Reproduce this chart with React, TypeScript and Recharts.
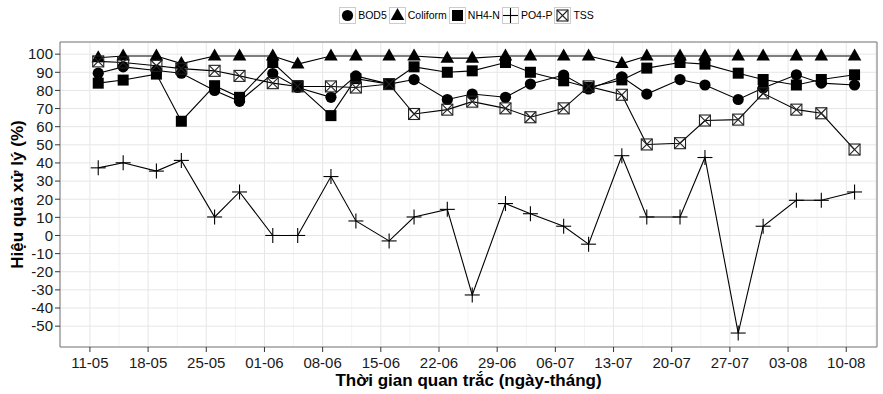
import React from 'react';
import {
  LineChart,
  Line,
  XAxis,
  YAxis,
  CartesianGrid,
  Legend,
  ReferenceArea,
} from 'recharts';

// sampling days (dd-mm, 2014)
const sampleDates = [
  '12-05', '15-05', '19-05', '22-05', '26-05', '29-05', '02-06', '05-06', '09-06',
  '12-06', '16-06', '19-06', '23-06', '26-06', '30-06', '03-07', '07-07', '10-07',
  '14-07', '17-07', '21-07', '24-07', '28-07', '31-07', '04-08', '07-08', '11-08',
];
const tickDates = [
  '11-05', '18-05', '25-05', '01-06', '08-06', '15-06', '22-06',
  '29-06', '06-07', '13-07', '20-07', '27-07', '03-08', '10-08',
];

const bod5 = [89.5, 93, 91, 89.5, 80, 74, 89.3, 81.6, 76.2, 88, 83.5, 86, 75, 78, 76.2, 83.5, 88.5, 80.8, 87.5, 78, 86, 83, 75, 81.3, 88.6, 84, 83];
const coliform = [98, 99, 99, 94.8, 99, 99, 99, 94.5, 99, 99, 99, 99, 97.8, 97.8, 99, 99, 99, 99, 94.8, 99, 99, 99, 99, 99, 99, 99, 99];
const nh4n = [84, 85.7, 89, 63, 82.6, 76.2, 95.4, 82.6, 66.1, 86.5, 83.5, 93, 90, 90.8, 95.4, 90, 85.3, 81.6, 85.8, 92.3, 95.4, 94.5, 89.5, 86, 83, 86, 88.6];
const po4p = [37.3, 40.1, 35.5, 41.4, 10.2, 24, 0, 0, 32.5, 8, -3, 10.2, 14.4, -32.8, 17.6, 12, 5.1, -4.8, 44, 10.2, 10.2, 43, -53.8, 5.1, 19.4, 19.4, 24];
const tss = [96, 95.4, 93.6, 92, 90.8, 88, 84, 82.2, 82.2, 81.6, 83.5, 67, 69.4, 73.8, 70.1, 65.2, 70.1, 82.2, 77.6, 50.2, 50.9, 63.4, 63.9, 78.4, 69.4, 67.4, 47.4];

const yTicks = [-50, -40, -30, -20, -10, 0, 10, 20, 30, 40, 50, 60, 70, 80, 90, 100];

const FONT = '"Liberation Sans", Arial, Helvetica, sans-serif';
const DAY = 86400000;
const ORIGIN = Date.UTC(2014, 4, 11);

const dayOf = (s: string) => {
  const [d, m] = s.split('-').map(Number);
  return (Date.UTC(2014, m - 1, d) - ORIGIN) / DAY;
};
const labelOf = (day: number) => {
  const dt = new Date(ORIGIN + day * DAY);
  const dd = String(dt.getUTCDate()).padStart(2, '0');
  const mm = String(dt.getUTCMonth() + 1).padStart(2, '0');
  return `${dd}-${mm}`;
};

const xTicks = tickDates.map(dayOf);
const xMinor = [xTicks[0] - 3.5, ...xTicks.map((t) => t + 3.5)];
const yMinor = [...yTicks.map((t) => t - 5), 105];
const X_DOMAIN: [number, number] = [-3.6, 94.7];
const Y_DOMAIN: [number, number] = [-61.5, 106.7];

const data = sampleDates.map((d, i) => ({
  day: dayOf(d),
  BOD5: bod5[i],
  Coliform: coliform[i],
  'NH4-N': nh4n[i],
  'PO4-P': po4p[i],
  TSS: tss[i],
}));

type Kind = 'circle' | 'triangle' | 'square' | 'plus' | 'boxx';

const series: { key: string; kind: Kind }[] = [
  { key: 'BOD5', kind: 'circle' },
  { key: 'Coliform', kind: 'triangle' },
  { key: 'NH4-N', kind: 'square' },
  { key: 'PO4-P', kind: 'plus' },
  { key: 'TSS', kind: 'boxx' },
];

function Marker({ kind, cx, cy }: { kind: Kind; cx: number; cy: number }) {
  if (cx == null || cy == null) return null;
  switch (kind) {
    case 'circle':
      return <circle cx={cx} cy={cy} r={5.6} fill="#000" />;
    case 'triangle':
      return (
        <polygon
          points={`${cx},${cy - 7.5} ${cx - 6.8},${cy + 4.5} ${cx + 6.8},${cy + 4.5}`}
          fill="#000"
        />
      );
    case 'square':
      return <rect x={cx - 5.5} y={cy - 5.5} width={11} height={11} fill="#000" />;
    case 'plus':
      return (
        <g stroke="#000" strokeWidth={1.1}>
          <line x1={cx - 7.5} y1={cy} x2={cx + 7.5} y2={cy} />
          <line x1={cx} y1={cy - 7.5} x2={cx} y2={cy + 7.5} />
        </g>
      );
    default:
      return (
        <g stroke="#222" strokeWidth={1.1} fill="none">
          <rect x={cx - 5.5} y={cy - 5.5} width={11} height={11} />
          <line x1={cx - 5.5} y1={cy - 5.5} x2={cx + 5.5} y2={cy + 5.5} />
          <line x1={cx - 5.5} y1={cy + 5.5} x2={cx + 5.5} y2={cy - 5.5} />
        </g>
      );
  }
}

function LegendContent() {
  return (
    <div
      style={{
        display: 'flex',
        justifyContent: 'center',
        alignItems: 'center',
        height: 30,
        paddingLeft: 52,
        fontFamily: FONT,
        fontSize: 10.5,
        color: '#000',
      }}
    >
      {series.map((s) => (
        <div key={s.key} style={{ display: 'flex', alignItems: 'center', marginRight: 2 }}>
          <svg width={17} height={17}>
            <rect x={0.5} y={0.5} width={16} height={16} fill="#fff" stroke="#cccccc" />
            <Marker kind={s.kind} cx={8.5} cy={8.5} />
          </svg>
          <span style={{ marginLeft: 2 }}>{s.key}</span>
        </div>
      ))}
    </div>
  );
}

const YTitle = (props: any) => {
  const { y, height } = props.viewBox;
  const cx = 17;
  const cy = y + height / 2;
  return (
    <text
      x={cx}
      y={cy}
      transform={`rotate(-90 ${cx} ${cy})`}
      textAnchor="middle"
      dominantBaseline="central"
      fontFamily={FONT}
      fontWeight="bold"
      fontSize={17}
      fill="#000"
    >
      Hiệu quả xử lý (%)
    </text>
  );
};

const XTitle = (props: any) => {
  const { x, y, width } = props.viewBox;
  return (
    <text
      x={x + width / 2}
      y={y + 39}
      textAnchor="middle"
      fontFamily={FONT}
      fontWeight="bold"
      fontSize={17}
      fill="#000"
    >
      Thời gian quan trắc (ngày-tháng)
    </text>
  );
};

export default function App() {
  const tickStyle = { fontSize: 15, fill: '#1a1a1a', fontFamily: FONT };
  return (
    <div style={{ position: 'absolute', left: 0, top: 0, background: '#fff' }}>
      <LineChart
        width={883}
        height={394}
        data={data}
        margin={{ top: 12, right: 6, bottom: 0, left: 0 }}
      >
        <XAxis xAxisId="minor" dataKey="day" type="number" domain={X_DOMAIN} ticks={xMinor} interval={0} hide />
        <YAxis yAxisId="minor" type="number" domain={Y_DOMAIN} ticks={yMinor} interval={0} hide />
        <CartesianGrid xAxisId="minor" yAxisId="minor" stroke="#f4f4f4" strokeWidth={1} />
        <CartesianGrid stroke="#e6e6e6" strokeWidth={1} />
        <XAxis
          dataKey="day"
          type="number"
          domain={X_DOMAIN}
          ticks={xTicks}
          interval={0}
          tickFormatter={labelOf}
          allowDataOverflow
          height={47}
          axisLine={false}
          tickLine={{ stroke: '#333' }}
          tickSize={5}
          tickMargin={5}
          tick={tickStyle}
          label={{ content: XTitle }}
        />
        <YAxis
          type="number"
          domain={Y_DOMAIN}
          ticks={yTicks}
          interval={0}
          allowDataOverflow
          width={60}
          axisLine={false}
          tickLine={{ stroke: '#333' }}
          tickSize={5}
          tickMargin={2}
          tick={tickStyle}
          label={{ content: YTitle }}
        />
        <ReferenceArea
          x1={X_DOMAIN[0]}
          x2={X_DOMAIN[1]}
          y1={Y_DOMAIN[0]}
          y2={Y_DOMAIN[1]}
          fill="none"
          stroke="#7f7f7f"
          strokeWidth={1}
        />
        <Legend
          verticalAlign="top"
          content={LegendContent}
          wrapperStyle={{ top: 0, left: 0, width: 883, height: 30 }}
        />
        {series.map((s) => (
          <Line
            key={s.key}
            dataKey={s.key}
            type="linear"
            stroke="#000"
            strokeWidth={1.1}
            isAnimationActive={false}
            dot={(p: any) => <Marker key={`${s.key}-${p.index}`} kind={s.kind} cx={p.cx} cy={p.cy} />}
            activeDot={false}
          />
        ))}
      </LineChart>
    </div>
  );
}
